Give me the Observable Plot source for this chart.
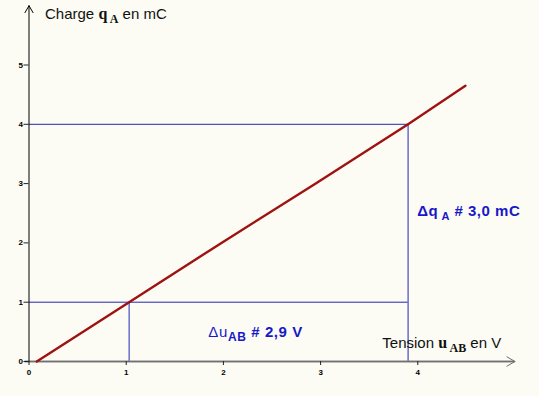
<!DOCTYPE html>
<html>
<head>
<meta charset="utf-8">
<script src="https://cdn.jsdelivr.net/npm/d3@7"></script>
<script src="https://cdn.jsdelivr.net/npm/@observablehq/plot@0.6"></script>
<style>
  html, body { margin: 0; padding: 0; background: #ffffff; }
  #chart svg { display: block; }
</style>
</head>
<body>
<div id="chart"></div>
<script>
// Measured points along the recorded curve q_A = f(u_AB)
const uValues = [0.08, 1.03, 1.98, 2.95, 3.9, 4.49];
const qValues = [0.0, 1.0, 2.0, 3.0, 4.0, 4.65];
// Tick labels
const xTicks = [0, 1, 2, 3, 4];
const yTicks = [0, 1, 2, 3, 4, 5];
// Axis extents
const xDomain = [0, 5];
const yDomain = [0, 6];
// Construction lines (delta readings)
const guideU = [1.03, 3.9];
const guideQ = [1, 4];

const curve = uValues.map((u, i) => ({u, q: qValues[i]}));
const verticals = guideU.map((u, i) => ({u, q: guideQ[i]}));

const blueLine = "#2424b4";
const blueText = "#1818c8";

const plot = Plot.plot({
  width: 539,
  height: 396,
  marginLeft: 28.5,
  marginRight: 24.5,
  marginTop: 5.2,
  marginBottom: 35,
  style: {background: "#fcfcf4", fontFamily: "'Liberation Sans', Arial, sans-serif"},
  x: {domain: xDomain},
  y: {domain: yDomain},
  marks: [
    // construction lines
    Plot.ruleY(guideQ, {y: d => d, x1: xDomain[0], x2: guideU[1], stroke: blueLine, strokeWidth: 1}),
    Plot.ruleX(verticals, {x: "u", y1: yDomain[0], y2: "q", stroke: blueLine, strokeWidth: 1}),
    // x axis (grey, thick) with arrow head
    Plot.ruleY([yDomain[0]], {x1: xDomain[0] - 0.04, x2: xDomain[1], stroke: "#808080", strokeWidth: 2}),
    Plot.arrow([0], {x1: xDomain[0], y1: yDomain[0], x2: xDomain[1], y2: yDomain[0], stroke: "#707070", strokeWidth: 1, headLength: 14}),
    // y axis (black) with arrow head
    Plot.arrow([0], {x1: xDomain[0], y1: yDomain[0], x2: xDomain[0], y2: yDomain[1], stroke: "#000", strokeWidth: 1, headLength: 12}),
    Plot.axisY({ticks: yTicks, tickFormat: "d", tickSize: 5, tickPadding: 1, fontSize: 8, fontWeight: "bold", label: null, stroke: "#222"}),
    Plot.axisX({ticks: xTicks, tickFormat: "d", tickSize: 4, tickPadding: 4, fontSize: 8, fontWeight: "bold", label: null, stroke: "#222"}),
    // curve
    Plot.line(curve, {x: "u", y: "q", stroke: "#9e1212", strokeWidth: 2.4})
  ]
});

document.getElementById("chart").appendChild(plot);

// Annotations with subscripts, positioned through the plot scales
const sx = plot.scale("x"), sy = plot.scale("y");
const svg = d3.select(plot);

function label(u, q, parts, opts) {
  const t = svg.append("text")
    .attr("x", sx.apply(u))
    .attr("y", sy.apply(q))
    .attr("text-anchor", "start")
    .attr("fill", opts.fill)
    .attr("font-family", "'Liberation Sans', Arial, sans-serif")
    .attr("font-size", opts.size)
    .attr("letter-spacing", opts.spacing || 0)
    .attr("font-weight", opts.weight || "normal");
  parts.forEach(p => {
    const ts = t.append("tspan").text(p.t);
    if (p.sub) ts.attr("dy", p.sub).attr("font-size", p.fs || opts.size * 0.75);
    if (p.up) ts.attr("dy", p.up);
    if (p.family) ts.attr("font-family", p.family);
    if (p.weight) ts.attr("font-weight", p.weight);
    if (p.fs && !p.sub) ts.attr("font-size", p.fs);
  });
}

// Y axis title
label(0.17, 5.76, [
  {t: "Charge "},
  {t: "q", family: "'Liberation Serif', serif", weight: "bold", fs: 16},
  {t: "\u2009A", sub: 4, family: "'Liberation Serif', serif", weight: "bold", fs: 12},
  {t: " en mC", up: -4}
], {fill: "#111", size: 15});

// X axis title
label(3.64, 0.22, [
  {t: "Tension "},
  {t: "u", family: "'Liberation Serif', serif", weight: "bold", fs: 16},
  {t: "\u2009AB", sub: 4, family: "'Liberation Serif', serif", weight: "bold", fs: 12},
  {t: " en V", up: -4}
], {fill: "#111", size: 15});

// Delta u annotation
label(1.85, 0.41, [
  {t: "\u0394u", weight: "normal"},
  {t: "AB", sub: 4, fs: 12},
  {t: " # 2,9 V", up: -4}
], {fill: blueText, size: 15, weight: "bold", spacing: 0.6});

// Delta q annotation
label(4.0, 2.44, [
  {t: "\u0394q"},
  {t: " A", sub: 4, fs: 11},
  {t: " # 3,0 mC", up: -4}
], {fill: blueText, size: 15, weight: "bold", spacing: 0.5});
</script>
</body>
</html>
